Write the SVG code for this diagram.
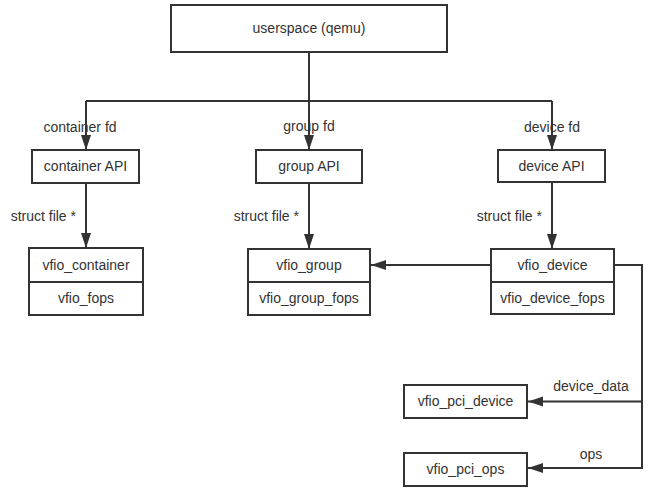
<svg xmlns="http://www.w3.org/2000/svg" width="649" height="490" viewBox="0 0 649 490">
<defs>
<marker id="arr" markerUnits="userSpaceOnUse" markerWidth="16" markerHeight="12" refX="15" refY="6" orient="auto">
<path d="M0,1 L15,6 L0,11 z" fill="#333"/>
</marker>
<style>
.box{fill:#fff;stroke:#333;stroke-width:2}
.ln{fill:none;stroke:#333;stroke-width:2}
.t{font-family:"Liberation Sans",Arial,sans-serif;font-size:14px;fill:#333;text-anchor:middle}
.lab{font-family:"Liberation Sans",Arial,sans-serif;font-size:14px;fill:#333}
</style>
</defs>
<rect width="649" height="490" fill="#fff"/>
<g id="connectors">
<path class="ln" d="M309,52 V150" marker-end="url(#arr)"/>
<path class="ln" d="M86,101 H552"/>
<path class="ln" d="M86,101 V150" marker-end="url(#arr)"/>
<path class="ln" d="M552,101 V150" marker-end="url(#arr)"/>
<path class="ln" d="M86,183 V248" marker-end="url(#arr)"/>
<path class="ln" d="M309,183 V249" marker-end="url(#arr)"/>
<path class="ln" d="M552,182 V249" marker-end="url(#arr)"/>
<path class="ln" d="M491,265 H371" marker-end="url(#arr)"/>
<path class="ln" d="M614,265 H642 V468 H528" marker-end="url(#arr)"/>
<path class="ln" d="M642,401.5 H528" marker-end="url(#arr)"/>
<text class="t" x="80" y="132">container fd</text>
<text class="t" x="309" y="131">group fd</text>
<text class="t" x="552" y="132">device fd</text>
<text class="lab" x="76" y="221" text-anchor="end">struct file *</text>
<text class="lab" x="299" y="221" text-anchor="end">struct file *</text>
<text class="lab" x="542" y="221" text-anchor="end">struct file *</text>
<text class="t" x="591" y="391">device_data</text>
<text class="t" x="591" y="459">ops</text>
</g>
<g id="userspace">
<rect class="box" x="171" y="5" width="276" height="47"/>
<text class="t" x="309" y="33">userspace (qemu)</text>
</g>
<g id="container-api">
<rect class="box" x="32" y="150" width="107" height="33"/>
<text class="t" x="85.5" y="171">container API</text>
</g>
<g id="group-api">
<rect class="box" x="256" y="150" width="106" height="33"/>
<text class="t" x="309" y="171">group API</text>
</g>
<g id="device-api">
<rect class="box" x="498" y="150" width="107" height="32"/>
<text class="t" x="551.5" y="171">device API</text>
</g>
<g id="vfio-container">
<rect class="box" x="29" y="248" width="114" height="67"/>
<path class="ln" d="M29,282 H143"/>
<text class="t" x="86" y="270">vfio_container</text>
<text class="t" x="86" y="303">vfio_fops</text>
</g>
<g id="vfio-group">
<rect class="box" x="248" y="249" width="122" height="66"/>
<path class="ln" d="M248,282 H370"/>
<text class="t" x="309" y="270">vfio_group</text>
<text class="t" x="309" y="303">vfio_group_fops</text>
</g>
<g id="vfio-device">
<rect class="box" x="491" y="249" width="123" height="65"/>
<path class="ln" d="M491,282 H614"/>
<text class="t" x="552.5" y="270">vfio_device</text>
<text class="t" x="552.5" y="303">vfio_device_fops</text>
</g>
<g id="vfio-pci-device">
<rect class="box" x="404" y="385" width="123" height="33"/>
<text class="t" x="465.5" y="406">vfio_pci_device</text>
</g>
<g id="vfio-pci-ops">
<rect class="box" x="404" y="453" width="123" height="33"/>
<text class="t" x="465.5" y="474">vfio_pci_ops</text>
</g>
</svg>
